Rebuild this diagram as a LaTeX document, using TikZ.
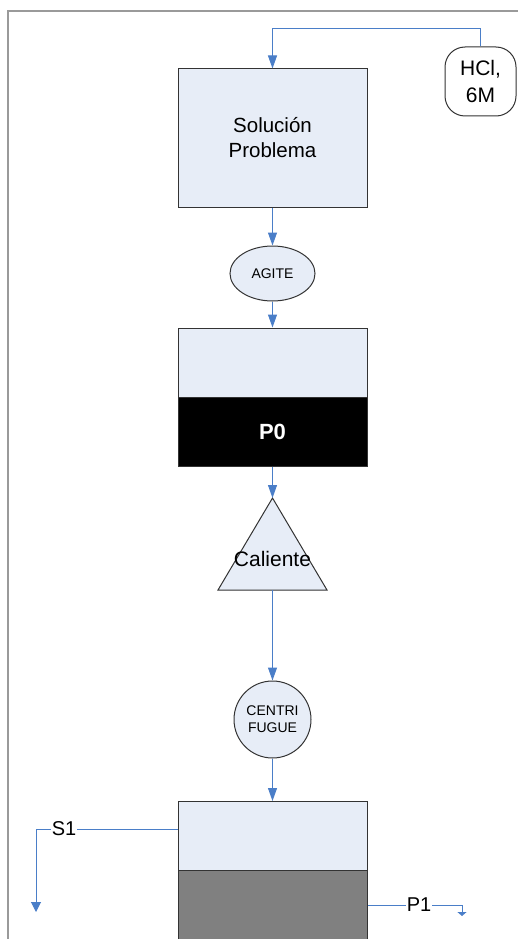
\documentclass[tikz,border=0pt]{standalone}
\usepackage{fontspec}
\setmainfont{Liberation Sans}
\usetikzlibrary{arrows.meta,shapes.geometric}

\definecolor{boxfill}{HTML}{E7EDF7}
\definecolor{flowline}{HTML}{4A7EC8}
\definecolor{framegray}{HTML}{9A9A9A}
\definecolor{solidgray}{HTML}{808080}

\begin{document}
\begin{tikzpicture}[x=1pt, y=-1pt,
	unit/.style={draw=black!80, fill=boxfill, line width=1pt, minimum width=189pt, minimum height=69pt, inner sep=0pt},
	flow/.style={draw=flowline, line width=1pt},
	feed/.style={flow, -{Triangle[width=9pt,length=13pt]}},
	tag/.style={fill=white, inner sep=1pt, font=\fontsize{20}{24}\selectfont}]
				\useasboundingbox (0,0) rectangle (518,939);
				\clip (0,0) rectangle (518,939);
				\draw[framegray, line width=2pt] (8,11) rectangle (600,1000);
				% main line
				\node[unit, minimum height=138pt, align=center, font=\fontsize{20.5}{25}\selectfont] (SolP)at(272.5, 138) {Solución\\Problema};
				\node[draw=black!80, fill=white, line width=1pt, rounded corners=20pt, minimum width=71pt, minimum height=69pt, inner sep=0pt, align=center, font=\fontsize{21}{27}\selectfont] (HCl)at(480.5, 81.5) {HCl,\\6M};
				\coordinate (HClUp)at(480.5, 29);
				\node[draw=black!80, fill=boxfill, line width=1pt, ellipse, minimum width=85pt, minimum height=55pt, inner sep=0pt, font=\fontsize{14}{17}\selectfont] (Agite)at(272.5, 273.5) {AGITE};
				\node[unit] (P0top)at(272.5, 362.5) {};
				\node[unit, fill=black, text=white, font=\fontsize{22}{26}\selectfont\bfseries] (P0bot)at(272.5, 431.5) {P0};
				% heating step
				\coordinate (CalTop)at(272.5, 498);
				\coordinate (CalBot)at(272.5, 590);
				\filldraw[draw=black!80, fill=boxfill, line width=1pt] (CalTop) -- (327, 590) -- (218, 590) -- cycle;
				\node[inner sep=0pt, font=\fontsize{21}{25}\selectfont] (Cal)at(272.5, 559) {Caliente};
				\node[draw=black!80, fill=boxfill, line width=1pt, circle, minimum size=77pt, inner sep=0pt, align=center, font=\fontsize{14}{17}\selectfont] (Cent)at(272.5, 719.5) {CENTRI\\FUGUE};
				% separation
				\node[unit] (Sep1)at(272.5, 836) {};
				\node[unit, fill=solidgray, minimum height=75pt] (Sep2)at(272.5, 907.5) {};
				\node[tag] (S1)at(64, 829) {S1};
				\node[tag] (P1)at(419, 905) {P1};
				\coordinate (S1end)at(36, 912);
				\coordinate (P1end)at(462, 916);
				\draw[feed] (HCl.north) -- (HClUp) -| (SolP.north);
				\draw[feed] (SolP) -- (Agite);
				\draw[feed] (Agite) -- (P0top);
				\draw[feed] (P0bot) -- (CalTop);
				\draw[feed] (CalBot) -- (Cent);
				\draw[feed] (Cent) -- (Sep1);
				\draw[flow] (S1 -| Sep1.west) -- (S1);
				\draw[flow, -{Triangle[width=10pt,length=10pt]}] (S1) -| (S1end);
				\draw[flow] (P1 -| Sep2.east) -- (P1);
				\draw[flow, -{Triangle[width=9pt,length=4pt]}] (P1) -| (P1end);
			\end{tikzpicture}
\end{document}
